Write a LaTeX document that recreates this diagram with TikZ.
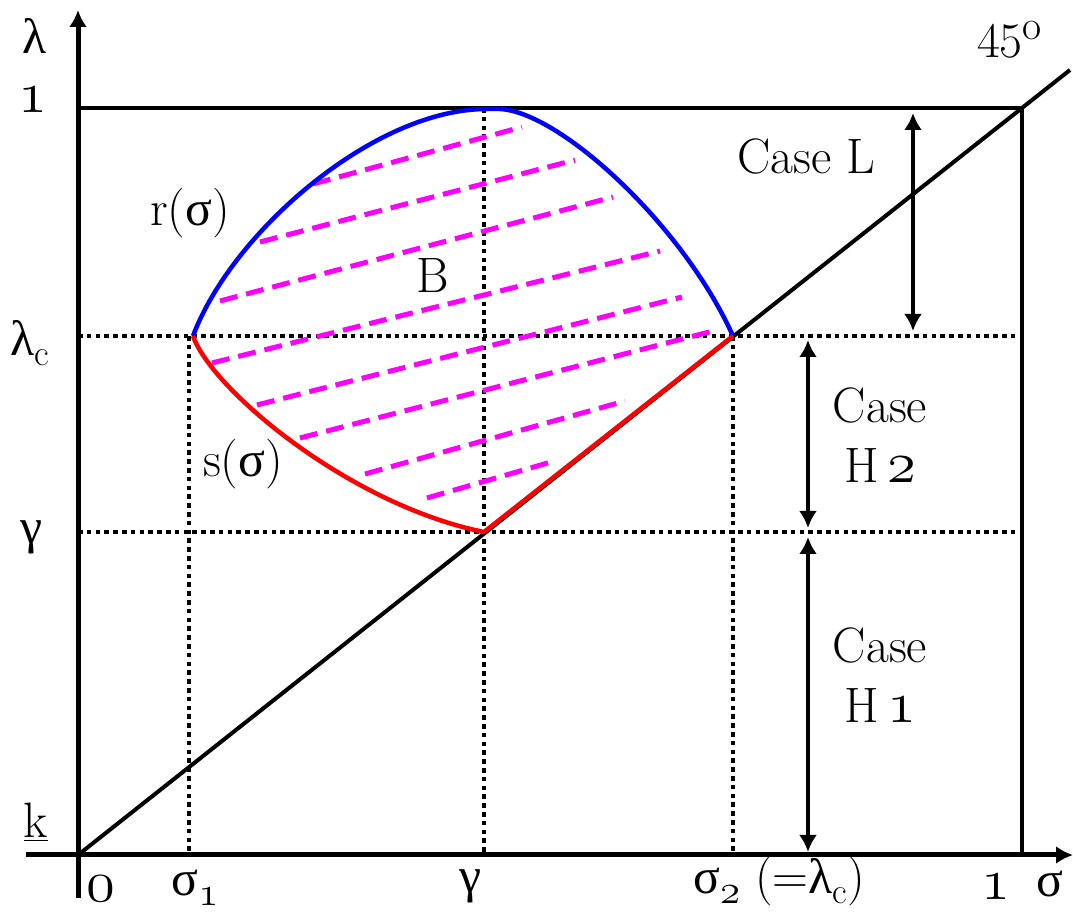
\documentclass[tikz,border=0pt]{standalone}
\usepackage{graphicx}
\usepackage{fontspec}
\newfontfamily\grk{Liberation Serif}
\usetikzlibrary{arrows.meta}
\definecolor{mag}{RGB}{255,0,255}
\definecolor{cblue}{RGB}{0,0,255}
\definecolor{cred}{RGB}{255,0,0}
\newcommand{\sbs}[1]{\raisebox{-5pt}{\fontsize{18}{20}\selectfont #1}}
\newcommand{\osn}[1]{\scalebox{1.18}{$\mathnormal{#1}$}}
\begin{document}
\begin{tikzpicture}[x=0.5pt,y=-0.5pt,
  axisline/.style={line width=2.5pt,-{Latex[length=8.5pt,width=9pt]}},
  plain/.style={line width=2pt},
  dotline/.style={line width=2.4pt,dash pattern=on 2.3pt off 2.1pt},
  hatch/.style={mag,line width=2.5pt,dash pattern=on 9pt off 4.5pt},
  curve/.style={line width=2.25pt,line join=round},
  dbl/.style={line width=2.25pt,{Latex[length=8.5pt,width=9pt]}-{Latex[length=8.5pt,width=9pt]}},
  lbl/.style={font=\fontsize{24.88}{30}\selectfont,inner sep=0pt}]
\useasboundingbox (0,0) rectangle (1073,913);
% key points
\coordinate (O) at (78,855);
\coordinate (P1) at (1022,108);
\coordinate (A) at (193,336);
\coordinate (C) at (733,336);
\coordinate (G) at (484,532);
\coordinate (T1) at (488,109);
\coordinate (T2) at (500,109);
% dotted guides
\draw[dotline] (78,336) -- (1022,336);
\draw[dotline] (78,532) -- (1022,532);
\draw[dotline] (189,336) -- (189,855);
\draw[dotline] (484,108) -- (484,855);
\draw[dotline] (733,336) -- (733,855);
% frame lines
\draw[plain] (78,108) -- (P1) -- (1022,855);
\draw[plain] (O) -- (1070,70);
% hatch
\draw[hatch] (313,184) -- (522,127);
\draw[hatch] (260,242) -- (575,160);
\draw[hatch] (220,301) -- (613,197);
\draw[hatch] (212,363) -- (660,251);
\draw[hatch] (257,405) -- (682,297);
\draw[hatch] (300,438) -- (717,330);
\draw[hatch] (365,474) -- (625,401);
\draw[hatch] (427,498) -- (551,462);
% curves
\draw[cblue,curve] (A) .. controls (232,232) and (375,108) .. (T1) -- (T2)
  .. controls (560,112) and (683,225) .. (C);
\draw[cred,curve] (A) .. controls (212,390) and (350,505) .. (G) -- (C);
% axes
\draw[axisline] (26,855) -- (1073,855);
\draw[axisline] (78,898) -- (78,10);
% case arrows
\draw[dbl] (913,113) -- (913,331);
\draw[dbl] (808,340) -- (808,528);
\draw[dbl] (808,537) -- (808,852);
% labels
\node[lbl] (lam) at (35,36) {\grk λ};
\node[lbl] (one) at (33,100) {\osn{1}};
\node[lbl] (lamc) at (30,343) {{\grk λ}\sbs{c}};
\node[lbl] (gam) at (31,537) {\grk γ};
\node[lbl] (k) at (36,822) {\underline{k}};
\node[lbl] (zero) at (101,889) {\osn{0}};
\node[lbl] (s1) at (195,888) {{\grk σ}\sbs{\osn{1}}};
\node[lbl] (gx) at (470,886) {\grk γ};
\node[lbl] (s2) at (779,881) {{\grk σ}\sbs{\osn{2}} (={\grk λ}\sbs{c})};
\node[lbl] (onex) at (996,887) {\osn{1}};
\node[lbl] (sx) at (1050,884) {\grk σ};
\node[lbl] (deg) at (1010,40) {45$^{\mathrm{o}}$};
\node[lbl] (r) at (190,213) {r({\grk σ})};
\node[lbl] (s) at (243,464) {s({\grk σ})};
\node[lbl] (B) at (433,276) {B};
\node[lbl] (cL) at (806,157) {Case L};
\node[lbl,align=center] (cH2) at (880,435) {Case\\H\,\osn{2}};
\node[lbl,align=center] (cH1) at (880,675) {Case\\H\,\osn{1}};
\end{tikzpicture}
\end{document}
